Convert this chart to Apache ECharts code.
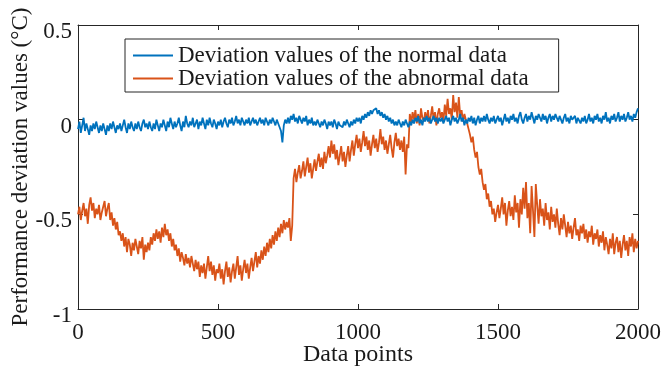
<!DOCTYPE html>
<html>
<head>
<meta charset="utf-8">
<script src="https://cdn.jsdelivr.net/npm/echarts@6/dist/echarts.min.js"></script>
<style>
  html, body { margin: 0; padding: 0; background: #fff; }
  #chart { width: 665px; height: 367px; }
</style>
</head>
<body>
<div id="chart"></div>
<script>
// Sample spacing (data points between stored values)
const step = 5;

// Deviation values of the normal data, one value every `step` points (0..2000)
const normalValues = [
  -0.05,-0.01,-0.07,-0.03,0.01,-0.06,-0.02,-0.05,-0.08,-0.03,
  -0.06,-0.02,-0.05,-0.01,-0.04,-0.07,-0.03,-0.06,-0.02,-0.05,
  -0.08,-0.03,-0.06,-0.02,-0.05,-0.01,-0.04,-0.07,-0.03,-0.05,
  -0.02,-0.06,-0.03,0.00,-0.04,-0.07,-0.02,-0.05,-0.01,-0.04,
  -0.06,-0.02,-0.05,-0.01,-0.04,-0.06,-0.02,0.00,-0.04,-0.02,
  -0.05,-0.01,-0.04,-0.06,-0.02,-0.05,0.00,-0.03,-0.06,-0.02,
  -0.04,0.00,-0.03,-0.06,-0.01,-0.04,0.01,-0.02,-0.05,-0.01,
  -0.04,-0.02,0.01,-0.03,-0.06,-0.01,-0.04,0.02,-0.02,-0.04,
  -0.01,-0.03,0.01,-0.04,-0.02,0.00,-0.05,-0.01,-0.03,0.01,
  -0.02,-0.05,0.00,-0.03,0.01,-0.02,-0.04,0.00,-0.02,-0.05,
  -0.01,-0.03,0.00,-0.04,-0.01,0.01,-0.02,-0.04,0.00,-0.02,
  0.01,-0.03,-0.01,0.02,-0.02,0.00,-0.03,0.01,-0.01,-0.03,
  0.00,-0.02,0.01,-0.03,-0.01,0.01,-0.02,0.00,-0.03,-0.01,
  0.01,-0.02,0.00,-0.03,0.01,-0.01,-0.03,0.00,-0.02,0.01,
  -0.01,-0.03,0.00,-0.02,-0.04,-0.06,-0.12,-0.03,0.00,-0.02,
  0.01,-0.02,0.02,0.00,0.03,-0.01,0.01,-0.02,0.02,0.00,
  -0.02,0.01,-0.01,0.02,-0.03,0.00,-0.02,0.01,-0.03,-0.01,
  -0.03,0.00,-0.02,-0.04,-0.01,-0.03,0.00,-0.02,-0.05,-0.01,
  -0.03,-0.01,-0.04,0.00,-0.02,-0.05,-0.01,-0.03,-0.02,-0.04,
  -0.01,-0.03,0.00,-0.02,-0.04,-0.01,-0.03,0.00,-0.02,0.01,
  -0.01,0.01,-0.02,0.02,0.00,0.03,0.01,0.04,0.02,0.05,
  0.03,0.05,0.04,0.06,0.03,0.05,0.02,0.04,0.01,0.03,
  0.00,0.02,-0.01,0.01,-0.02,0.00,-0.03,-0.01,-0.03,0.00,
  -0.02,-0.04,-0.01,-0.03,0.00,-0.02,-0.04,-0.01,-0.03,0.00,
  -0.02,0.01,-0.01,0.02,-0.02,0.00,-0.03,0.01,-0.01,0.02,
  -0.01,0.01,-0.02,0.00,0.02,-0.01,0.01,-0.02,0.01,-0.01,
  0.01,-0.02,0.00,0.02,-0.01,0.01,-0.03,0.00,0.02,-0.01,
  0.01,-0.02,0.00,0.03,-0.01,0.01,-0.03,0.00,-0.02,0.01,
  -0.01,0.02,-0.02,0.01,-0.03,0.00,0.02,-0.02,0.01,-0.01,
  0.02,-0.01,0.03,0.00,-0.02,0.01,-0.01,0.02,-0.02,0.00,
  0.02,-0.01,0.01,-0.03,0.00,0.03,-0.01,0.01,-0.02,0.02,
  0.00,0.03,-0.01,0.01,-0.02,0.02,0.04,0.00,-0.02,0.01,
  0.03,-0.01,0.02,0.00,0.04,0.01,-0.02,0.02,0.00,0.03,
  0.01,-0.01,0.03,0.00,0.02,-0.02,0.01,0.03,-0.01,0.02,
  0.00,0.03,0.01,-0.01,0.02,0.00,-0.02,0.01,0.03,-0.01,
  0.01,-0.02,0.02,0.00,-0.01,0.02,-0.02,0.01,0.00,-0.02,
  0.01,-0.01,0.02,-0.02,0.00,0.03,-0.01,0.01,-0.02,0.02,
  0.00,0.03,-0.01,0.01,-0.02,0.02,0.00,0.04,-0.01,0.01,
  -0.02,0.02,0.00,0.03,-0.01,0.01,0.04,-0.01,0.02,0.00,
  0.03,-0.01,0.01,0.04,0.00,0.02,-0.01,0.03,0.01,0.04,
  0.06
];

// Deviation values of the abnormal data, one value every `step` points (0..2000)
const abnormalValues = [
  -0.50,-0.46,-0.53,-0.48,-0.44,-0.51,-0.47,-0.55,-0.45,-0.41,
  -0.48,-0.44,-0.52,-0.47,-0.50,-0.45,-0.53,-0.49,-0.46,-0.43,
  -0.51,-0.47,-0.44,-0.53,-0.49,-0.56,-0.52,-0.58,-0.54,-0.61,
  -0.59,-0.64,-0.60,-0.67,-0.62,-0.70,-0.63,-0.66,-0.72,-0.65,
  -0.69,-0.63,-0.67,-0.71,-0.64,-0.68,-0.62,-0.74,-0.66,-0.70,
  -0.65,-0.69,-0.62,-0.66,-0.60,-0.64,-0.58,-0.63,-0.59,-0.65,
  -0.57,-0.62,-0.55,-0.61,-0.58,-0.64,-0.60,-0.67,-0.63,-0.69,
  -0.66,-0.72,-0.68,-0.75,-0.70,-0.73,-0.77,-0.71,-0.76,-0.73,
  -0.78,-0.72,-0.76,-0.80,-0.74,-0.79,-0.75,-0.83,-0.77,-0.81,
  -0.76,-0.84,-0.78,-0.72,-0.80,-0.75,-0.82,-0.77,-0.85,-0.79,
  -0.81,-0.76,-0.84,-0.79,-0.87,-0.80,-0.75,-0.83,-0.78,-0.86,
  -0.80,-0.76,-0.84,-0.78,-0.72,-0.82,-0.77,-0.85,-0.79,-0.74,
  -0.81,-0.76,-0.84,-0.78,-0.73,-0.80,-0.75,-0.70,-0.78,-0.72,
  -0.76,-0.69,-0.74,-0.67,-0.72,-0.65,-0.70,-0.63,-0.68,-0.61,
  -0.66,-0.59,-0.64,-0.57,-0.62,-0.55,-0.60,-0.53,-0.58,-0.54,
  -0.57,-0.52,-0.64,-0.56,-0.31,-0.26,-0.33,-0.28,-0.24,-0.31,
  -0.27,-0.22,-0.30,-0.25,-0.20,-0.28,-0.23,-0.31,-0.26,-0.21,
  -0.27,-0.22,-0.18,-0.25,-0.20,-0.26,-0.17,-0.23,-0.19,-0.14,
  -0.20,-0.11,-0.18,-0.13,-0.21,-0.16,-0.24,-0.19,-0.14,-0.22,
  -0.17,-0.25,-0.19,-0.14,-0.22,-0.16,-0.11,-0.19,-0.13,-0.08,
  -0.15,-0.10,-0.17,-0.12,-0.06,-0.14,-0.09,-0.16,-0.11,-0.19,
  -0.13,-0.08,-0.15,-0.10,-0.17,-0.12,-0.05,-0.13,-0.09,-0.16,
  -0.11,-0.18,-0.13,-0.08,-0.15,-0.20,-0.12,-0.07,-0.14,-0.10,
  -0.16,-0.11,-0.17,-0.09,-0.29,-0.13,-0.15,0.03,-0.02,0.04,
  0.00,0.05,-0.02,0.03,-0.03,0.06,0.01,-0.01,0.04,0.00,
  0.05,-0.02,0.02,0.07,0.00,0.04,-0.03,0.03,0.06,0.01,
  0.04,-0.01,0.08,0.02,0.11,0.03,0.06,0.00,0.13,0.04,
  0.09,0.01,0.12,0.02,0.05,-0.01,0.03,0.00,-0.02,-0.05,
  -0.08,-0.12,-0.09,-0.16,-0.20,-0.17,-0.25,-0.29,-0.26,-0.33,
  -0.37,-0.34,-0.42,-0.39,-0.46,-0.43,-0.50,-0.47,-0.54,-0.49,
  -0.45,-0.52,-0.47,-0.41,-0.50,-0.44,-0.56,-0.48,-0.43,-0.51,
  -0.46,-0.53,-0.40,-0.49,-0.44,-0.57,-0.42,-0.50,-0.36,-0.47,
  -0.33,-0.52,-0.44,-0.60,-0.35,-0.48,-0.62,-0.34,-0.45,-0.55,
  -0.42,-0.51,-0.47,-0.56,-0.44,-0.53,-0.49,-0.58,-0.46,-0.54,
  -0.50,-0.57,-0.47,-0.55,-0.61,-0.52,-0.58,-0.50,-0.56,-0.62,
  -0.54,-0.60,-0.56,-0.63,-0.57,-0.52,-0.61,-0.58,-0.64,-0.56,
  -0.60,-0.55,-0.63,-0.58,-0.65,-0.59,-0.62,-0.56,-0.66,-0.60,
  -0.63,-0.58,-0.67,-0.61,-0.65,-0.59,-0.69,-0.62,-0.66,-0.71,
  -0.63,-0.68,-0.60,-0.71,-0.65,-0.62,-0.70,-0.64,-0.73,-0.66,
  -0.61,-0.69,-0.64,-0.72,-0.62,-0.67,-0.60,-0.70,-0.63,-0.68,
  -0.64
];

const seriesNames = [
  'Deviation values of the normal data',
  'Deviation values of the abnormal data'
];
const xTicks = [0, 500, 1000, 1500, 2000];
const yTicks = [-1, -0.5, 0, 0.5];

const toPairs = vals => vals.map((v, i) => [i * step, v]);

const font = '"Liberation Serif", "Times New Roman", serif';
const axisColor = '#262626';
const textColor = '#1a1a1a';

const baseX = {
  type: 'value', min: xTicks[0], max: xTicks[xTicks.length - 1], interval: 500,
  axisLine: { show: true, onZero: false, lineStyle: { color: axisColor, width: 1 } },
  axisTick: { show: true, inside: true, length: 5, lineStyle: { color: axisColor } },
  splitLine: { show: false }
};
const baseY = {
  type: 'value', min: yTicks[0], max: yTicks[yTicks.length - 1], interval: 0.5,
  axisLine: { show: true, onZero: false, lineStyle: { color: axisColor, width: 1 } },
  axisTick: { show: true, inside: true, length: 5, lineStyle: { color: axisColor } },
  splitLine: { show: false }
};

const chart = echarts.init(document.getElementById('chart'), null, { renderer: 'canvas' });
chart.setOption({
  animation: false,
  backgroundColor: '#ffffff',
  textStyle: { fontFamily: font },
  grid: {
    left: 78, right: 27, top: 25, bottom: 58,
    containLabel: false, outerBoundsMode: 'none'
  },
  legend: {
    orient: 'vertical',
    left: 125, top: 39,
    data: seriesNames,
    icon: 'rect',
    itemWidth: 40, itemHeight: 2,
    itemGap: 0,
    padding: [5, 30, 2, 8],
    borderColor: '#262626', borderWidth: 1,
    backgroundColor: '#ffffff',
    textStyle: { fontFamily: font, fontSize: 23, color: textColor, lineHeight: 20 }
  },
  xAxis: [
    Object.assign({}, baseX, {
      position: 'bottom',
      name: 'Data points', nameLocation: 'middle', nameGap: 34,
      nameMoveOverlap: false,
      nameTextStyle: { fontFamily: font, fontSize: 24, color: textColor },
      axisLabel: {
        fontFamily: font, fontSize: 23, color: textColor, margin: 12,
        formatter: v => String(v)
      }
    }),
    Object.assign({}, baseX, { position: 'top', axisLabel: { show: false } })
  ],
  yAxis: [
    Object.assign({}, baseY, {
      position: 'left',
      name: 'Performance deviation values (°C)', nameLocation: 'middle', nameGap: 46,
      nameMoveOverlap: false,
      nameTextStyle: { fontFamily: font, fontSize: 23, color: textColor },
      axisLabel: {
        fontFamily: font, fontSize: 23, color: textColor, margin: 6,
        verticalAlign: 'top', lineHeight: 14,
        formatter: v => String(v)
      }
    }),
    Object.assign({}, baseY, { position: 'right', axisLabel: { show: false } })
  ],
  series: [
    {
      name: seriesNames[0], type: 'line', xAxisIndex: 0, yAxisIndex: 0,
      data: toPairs(normalValues), showSymbol: false, symbol: 'none',
      lineStyle: { color: '#0072BD', width: 1.8 }, itemStyle: { color: '#0072BD' },
      z: 3
    },
    {
      name: seriesNames[1], type: 'line', xAxisIndex: 0, yAxisIndex: 0,
      data: toPairs(abnormalValues), showSymbol: false, symbol: 'none',
      lineStyle: { color: '#D95319', width: 1.8 }, itemStyle: { color: '#D95319' },
      z: 2
    }
  ]
});
</script>
</body>
</html>
